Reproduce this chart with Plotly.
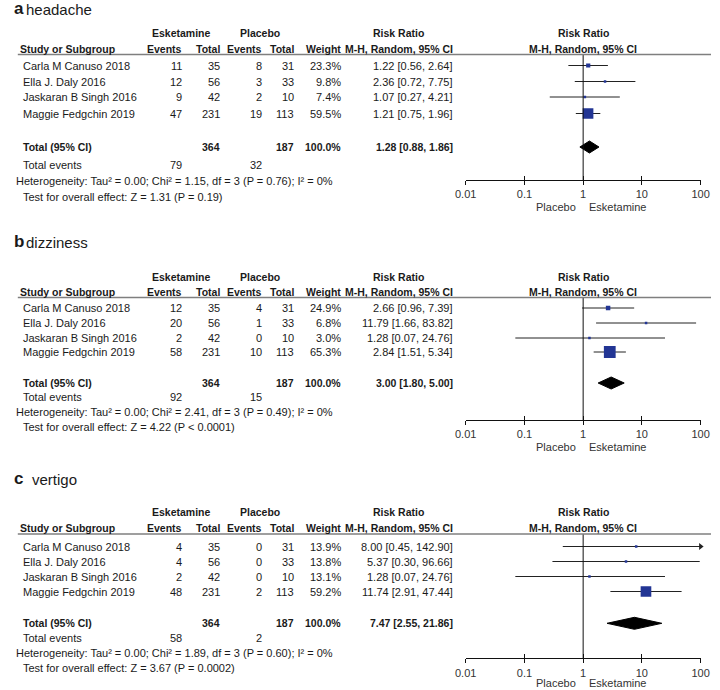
import plotly.graph_objects as go

W, H = 720, 690

# ---------------- data ----------------
studies = ["Carla M Canuso 2018", "Ella J. Daly 2016", "Jaskaran B Singh 2016", "Maggie Fedgchin 2019"]
esk_total = [35, 56, 42, 231]
pla_total = [31, 33, 10, 113]
esk_sum_total = 364
pla_sum_total = 187

panel_letters = ["a", "b", "c"]
panel_names = ["headache", "dizziness", "vertigo"]

headache_esk_events = [11, 12, 9, 47]
headache_pla_events = [8, 3, 2, 19]
headache_weight = [23.3, 9.8, 7.4, 59.5]
headache_rr = [1.22, 2.36, 1.07, 1.21]
headache_lo = [0.56, 0.72, 0.27, 0.75]
headache_hi = [2.64, 7.75, 4.21, 1.96]
headache_total = [1.28, 0.88, 1.86]
headache_events_sum = [79, 32]
headache_het = "Heterogeneity: Tau² = 0.00; Chi² = 1.15, df = 3 (P = 0.76); I² = 0%"
headache_test = "Test for overall effect: Z = 1.31 (P = 0.19)"

dizziness_esk_events = [12, 20, 2, 58]
dizziness_pla_events = [4, 1, 0, 10]
dizziness_weight = [24.9, 6.8, 3.0, 65.3]
dizziness_rr = [2.66, 11.79, 1.28, 2.84]
dizziness_lo = [0.96, 1.66, 0.07, 1.51]
dizziness_hi = [7.39, 83.82, 24.76, 5.34]
dizziness_total = [3.00, 1.80, 5.00]
dizziness_events_sum = [92, 15]
dizziness_het = "Heterogeneity: Tau² = 0.00; Chi² = 2.41, df = 3 (P = 0.49); I² = 0%"
dizziness_test = "Test for overall effect: Z = 4.22 (P < 0.0001)"

vertigo_esk_events = [4, 4, 2, 48]
vertigo_pla_events = [0, 0, 0, 2]
vertigo_weight = [13.9, 13.8, 13.1, 59.2]
vertigo_rr = [8.00, 5.37, 1.28, 11.74]
vertigo_lo = [0.45, 0.30, 0.07, 2.91]
vertigo_hi = [142.90, 96.66, 24.76, 47.44]
vertigo_total = [7.47, 2.55, 21.86]
vertigo_events_sum = [58, 2]
vertigo_het = "Heterogeneity: Tau² = 0.00; Chi² = 1.89, df = 3 (P = 0.60); I² = 0%"
vertigo_test = "Test for overall effect: Z = 3.67 (P = 0.0002)"

tick_vals = [0.01, 0.1, 1, 10, 100]
tick_text = ["0.01", "0.1", "1", "10", "100"]
axis_min, axis_max = 0.01, 100

panels = [
    dict(esk=headache_esk_events, pla=headache_pla_events, w=headache_weight, rr=headache_rr,
         lo=headache_lo, hi=headache_hi, tot=headache_total, ev=headache_events_sum,
         het=headache_het, test=headache_test),
    dict(esk=dizziness_esk_events, pla=dizziness_pla_events, w=dizziness_weight, rr=dizziness_rr,
         lo=dizziness_lo, hi=dizziness_hi, tot=dizziness_total, ev=dizziness_events_sum,
         het=dizziness_het, test=dizziness_test),
    dict(esk=vertigo_esk_events, pla=vertigo_pla_events, w=vertigo_weight, rr=vertigo_rr,
         lo=vertigo_lo, hi=vertigo_hi, tot=vertigo_total, ev=vertigo_events_sum,
         het=vertigo_het, test=vertigo_test),
]

# ---------------- layout (pixel positions) ----------------
YPOS = [
    dict(title=8, h1=33, h2=48.5, ul=54.5, rows=[65.5, 81.5, 97, 113.5], total=147, te=165, het=181, test=196.5, axis=180, plabel=207),
    dict(title=241.5, h1=276.5, h2=291.5, ul=297.5, rows=[308, 323, 338, 352], total=383, te=397, het=412, test=427, axis=420, plabel=446.5),
    dict(title=478, h1=511.7, h2=528.3, ul=534, rows=[546.5, 561.5, 576.5, 591.5], total=623.3, te=638.3, het=653.3, test=668.3, axis=658.3, plabel=682.5),
]
XP = dict(study=10, esk_ev=178, esk_tot=217, pla_ev=260, pla_tot=293, weight=341, rr=457,
          esk_head=175, pla_head=256, rr_head=399, forest_c=588.5)
FOREST_DOMAIN = [467.7 / W, 709.3 / W]

FONT = "Liberation Sans, Arial, sans-serif"
TXT = "#1a1a1a"
BLUE = "#223594"
FS = 11
FSB = 10.5

fig = go.Figure()
annotations = []
shapes = []


def txt(x, y, s, anchor="left", bold=False, size=None, color=TXT):
    if size is None:
        size = FSB if bold else FS
    annotations.append(dict(
        x=x / W, y=y, xref="paper", yref="y", text=f"<b>{s}</b>" if bold else s,
        showarrow=False, xanchor=anchor, yanchor="middle",
        font=dict(family=FONT, size=size, color=color), align=anchor))


for p, (d, yp) in enumerate(zip(panels, YPOS)):
    xa = "x" if p == 0 else f"x{p + 1}"
    xo = f"x{p + 4}"
    # titles
    txt(1, yp["title"], panel_letters[p], bold=True, size=17)
    txt(13 if p < 2 else 20, yp["title"] + 1, panel_names[p], size=15)
    # headers
    txt(XP["esk_head"], yp["h1"], "Esketamine", "center", True)
    txt(XP["pla_head"], yp["h1"], "Placebo", "center", True)
    txt(XP["rr_head"], yp["h1"], "Risk Ratio", "center", True)
    txt(XP["forest_c"], yp["h1"], "Risk Ratio", "center", True)
    txt(7, yp["h2"], "Study or Subgroup", "left", True)
    txt(XP["esk_ev"], yp["h2"], "Events", "right", True)
    txt(XP["esk_tot"], yp["h2"], "Total", "right", True)
    txt(XP["pla_ev"], yp["h2"], "Events", "right", True)
    txt(XP["pla_tot"], yp["h2"], "Total", "right", True)
    txt(XP["weight"], yp["h2"], "Weight", "right", True)
    txt(XP["rr"], yp["h2"], "M-H, Random, 95% CI", "right", True)
    txt(XP["forest_c"], yp["h2"], "M-H, Random, 95% CI", "center", True)
    shapes.append(dict(type="line", xref="paper", yref="y", x0=7 / W, x1=1.0,
                       y0=yp["ul"], y1=yp["ul"], line=dict(color="#7f7f7f", width=1.6)))
    # study rows
    for i, name in enumerate(studies):
        y = yp["rows"][i]
        txt(XP["study"], y, name)
        txt(XP["esk_ev"], y, str(d["esk"][i]), "right")
        txt(XP["esk_tot"], y, str(esk_total[i]), "right")
        txt(XP["pla_ev"], y, str(d["pla"][i]), "right")
        txt(XP["pla_tot"], y, str(pla_total[i]), "right")
        txt(XP["weight"], y, f"{d['w'][i]:.1f}%", "right")
        txt(XP["rr"], y, f"{d['rr'][i]:.2f} [{d['lo'][i]:.2f}, {d['hi'][i]:.2f}]", "right")
        lo = max(d["lo"][i], axis_min)
        hi = min(d["hi"][i], axis_max)
        fig.add_trace(go.Scatter(x=[lo, hi], y=[y, y], mode="lines", xaxis=xa, yaxis="y",
                                 line=dict(color="#222222", width=1), hoverinfo="skip", showlegend=False))
        if d["hi"][i] > axis_max:
            fig.add_trace(go.Scatter(x=[axis_max], y=[y], mode="markers", xaxis=xa, yaxis="y",
                                     marker=dict(symbol="triangle-right", size=6, color="#222222"),
                                     cliponaxis=False, hoverinfo="skip", showlegend=False))
        fig.add_trace(go.Scatter(x=[d["rr"][i]], y=[y], mode="markers", xaxis=xa, yaxis="y",
                                 marker=dict(symbol="square", size=max(2.5, 0.18 * d["w"][i]), color=BLUE,
                                             line=dict(width=0)),
                                 hoverinfo="skip", showlegend=False))
    # total row
    yt = yp["total"]
    txt(XP["study"], yt, "Total (95% CI)", "left", True)
    txt(XP["esk_tot"], yt, str(esk_sum_total), "right", True)
    txt(XP["pla_tot"], yt, str(pla_sum_total), "right", True)
    txt(XP["weight"], yt, "100.0%", "right", True)
    est, tlo, thi = d["tot"]
    txt(XP["rr"], yt, f"{est:.2f} [{tlo:.2f}, {thi:.2f}]", "right", True)
    txt(XP["study"], yp["te"], "Total events")
    txt(XP["esk_ev"], yp["te"], str(d["ev"][0]), "right")
    txt(XP["pla_ev"], yp["te"], str(d["ev"][1]), "right")
    txt(3, yp["het"], d["het"])
    txt(XP["study"], yp["test"], d["test"])
    # diamond
    hh = 6
    fig.add_trace(go.Scatter(x=[tlo, est, thi, est, tlo], y=[yt, yt - hh, yt, yt + hh, yt],
                             mode="lines", fill="toself", fillcolor="#000000", xaxis=xa, yaxis="y",
                             line=dict(color="#000000", width=1), hoverinfo="skip", showlegend=False))
    # line of no effect
    fig.add_trace(go.Scatter(x=[1, 1], y=[yp["ul"], yp["axis"]], mode="lines", xaxis=xa, yaxis="y",
                             line=dict(color="#111111", width=1), hoverinfo="skip", showlegend=False))
    # dummy for overlay axis (inside ticks)
    fig.add_trace(go.Scatter(x=[1], y=[-50], mode="markers", xaxis=xo, yaxis="y",
                             marker=dict(size=1, opacity=0), hoverinfo="skip", showlegend=False))
    # favour labels
    txt(XP["forest_c"] - 5, yp["plabel"], "Placebo", "right", color="#333333")
    txt(XP["forest_c"] + 4, yp["plabel"], "Esketamine", "left", color="#333333")

    pos = 1 - yp["axis"] / H
    common = dict(type="log", range=[-2, 2], domain=FOREST_DOMAIN, anchor="free", position=pos,
                  showgrid=False, zeroline=False, fixedrange=True)
    fig.layout[f"xaxis{'' if p == 0 else p + 1}"] = dict(
        **common, tickvals=tick_vals, ticktext=tick_text, ticks="outside", ticklen=4,
        tickcolor="#111111", tickwidth=1, showline=True, linecolor="#111111", linewidth=1,
        tickfont=dict(family=FONT, size=FS, color="#333333"))
    fig.layout[f"xaxis{p + 4}"] = dict(
        **common, overlaying=xa, tickvals=tick_vals, ticks="inside", ticklen=4,
        tickcolor="#111111", tickwidth=1, showline=False, showticklabels=False)

fig.update_layout(
    width=W, height=H, margin=dict(l=0, r=0, t=0, b=0),
    paper_bgcolor="white", plot_bgcolor="rgba(0,0,0,0)",
    yaxis=dict(range=[H, 0], domain=[0, 1], visible=False, fixedrange=True),
    annotations=annotations, shapes=shapes, showlegend=False,
    font=dict(family=FONT, size=FS, color=TXT),
)

fig.write_html("out.html",
               config={"displayModeBar": False, "staticPlot": True},
               post_script="document.body.style.margin='0px';document.body.style.overflow='hidden';")
